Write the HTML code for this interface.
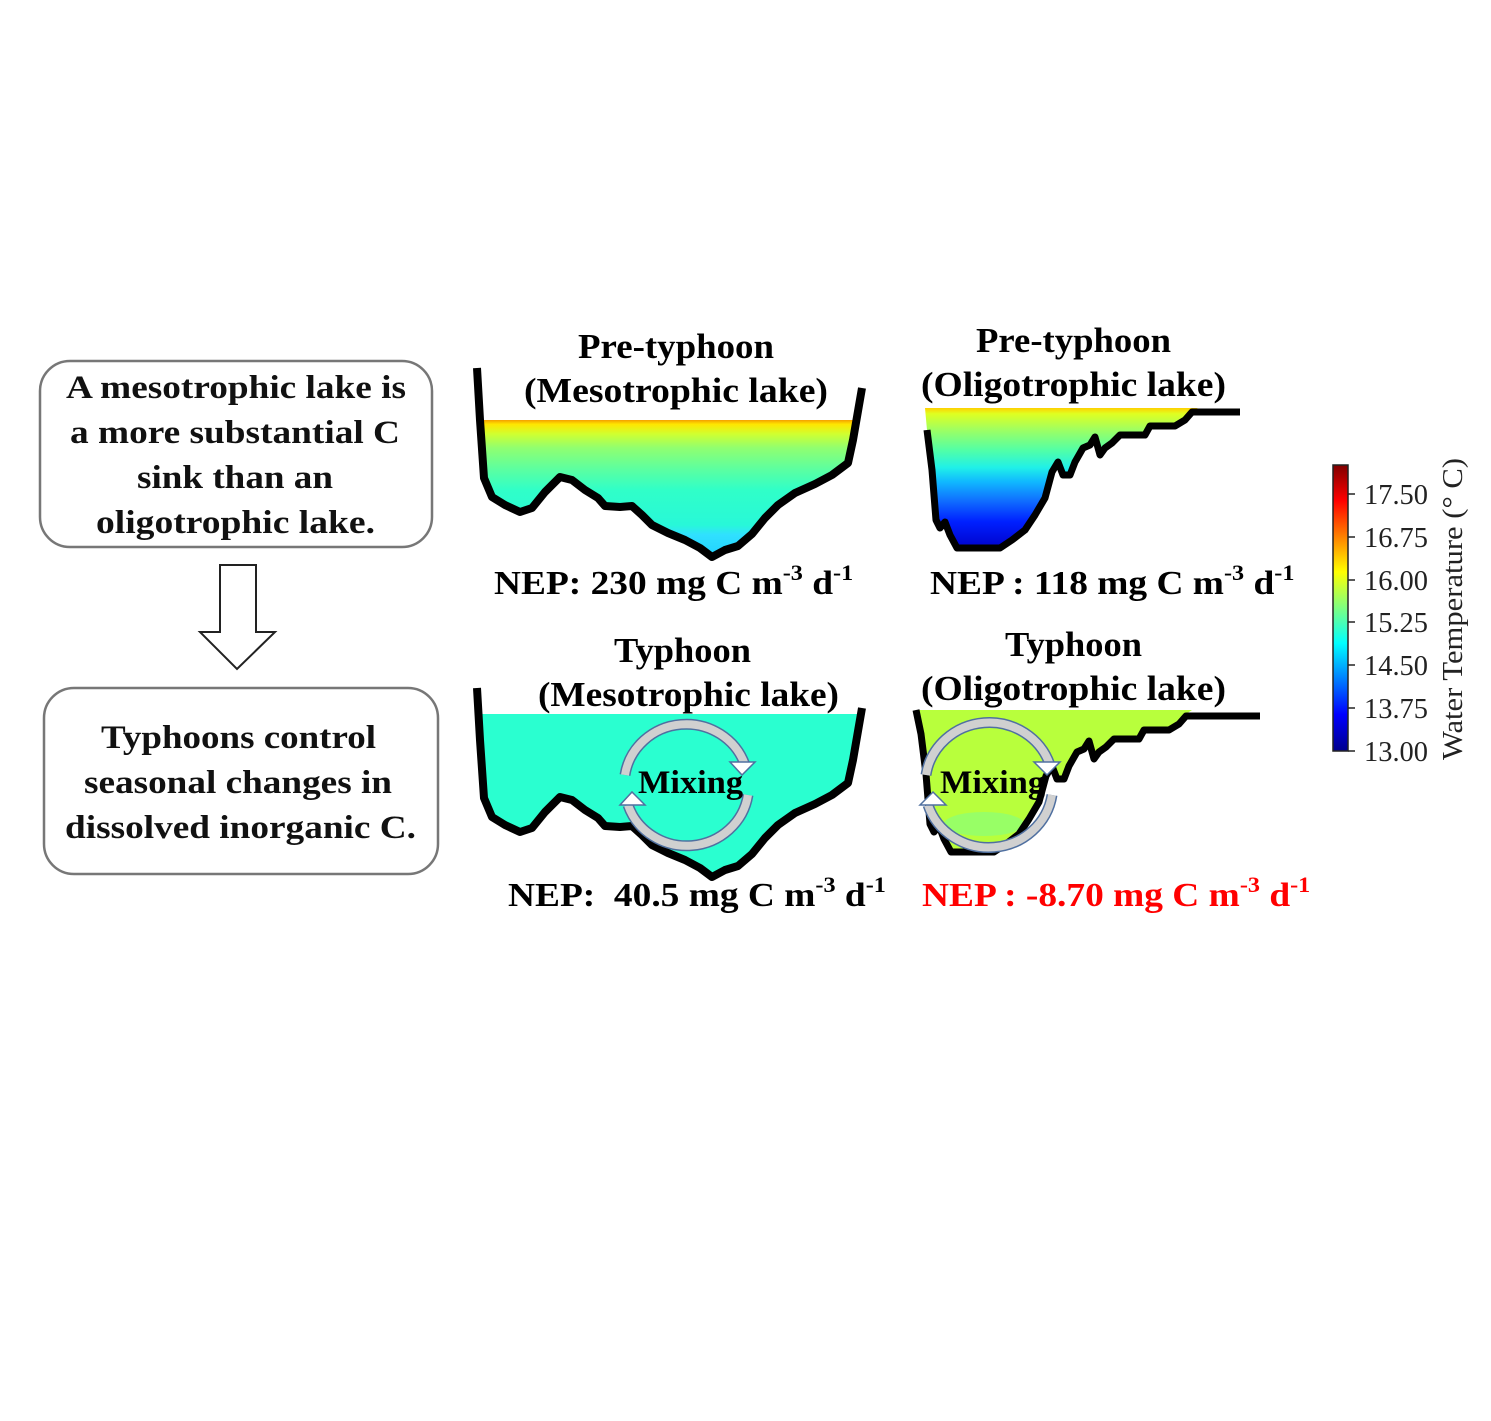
<!DOCTYPE html>
<html><head><meta charset="utf-8"><style>
html,body{margin:0;padding:0;background:#fff}
svg{display:block}
text{font-family:"Liberation Serif",serif}
</style></head><body>
<svg width="1491" height="1421" viewBox="0 0 1491 1421" xmlns="http://www.w3.org/2000/svg">
<defs>
<linearGradient id="gm" x1="0" y1="420" x2="0" y2="560" gradientUnits="userSpaceOnUse">
<stop offset="0" stop-color="#f5a000"/><stop offset="0.03" stop-color="#ffe600"/>
<stop offset="0.1" stop-color="#d0ff30"/><stop offset="0.2" stop-color="#90ff70"/>
<stop offset="0.35" stop-color="#5cffa0"/><stop offset="0.5" stop-color="#30ffc8"/>
<stop offset="0.75" stop-color="#28f8d8"/><stop offset="0.82" stop-color="#30e0ff"/><stop offset="1" stop-color="#20d0ff"/>
</linearGradient>
<linearGradient id="go" x1="0" y1="408" x2="0" y2="550" gradientUnits="userSpaceOnUse">
<stop offset="0" stop-color="#ffd000"/><stop offset="0.04" stop-color="#e0ff20"/>
<stop offset="0.15" stop-color="#a0ff60"/><stop offset="0.3" stop-color="#50ffa8"/>
<stop offset="0.42" stop-color="#20f0e8"/><stop offset="0.52" stop-color="#10b8ff"/>
<stop offset="0.65" stop-color="#1070ff"/><stop offset="0.8" stop-color="#0020ff"/><stop offset="1" stop-color="#0000c8"/>
</linearGradient>
<linearGradient id="jet" x1="0" y1="750" x2="0" y2="465" gradientUnits="userSpaceOnUse">
<stop offset="0" stop-color="#00008f"/><stop offset="0.125" stop-color="#0000ff"/>
<stop offset="0.375" stop-color="#00ffff"/><stop offset="0.625" stop-color="#ffff00"/>
<stop offset="0.875" stop-color="#ff0000"/><stop offset="1" stop-color="#800000"/>
</linearGradient>
</defs>

<!-- left boxes -->
<rect x="40" y="361" width="392" height="186" rx="30" fill="#fff" stroke="#777" stroke-width="2.5"/>
<g font-weight="bold" font-size="33" fill="#111" lengthAdjust="spacingAndGlyphs">
<text x="66" y="398" textLength="340" lengthAdjust="spacingAndGlyphs">A mesotrophic lake is</text>
<text x="70" y="443" textLength="330" lengthAdjust="spacingAndGlyphs">a more substantial C</text>
<text x="137" y="488" textLength="196" lengthAdjust="spacingAndGlyphs">sink than an</text>
<text x="96" y="533" textLength="279" lengthAdjust="spacingAndGlyphs">oligotrophic lake.</text>
</g>
<path d="M220,565 H256 V632 H275 L237,669 L200,632 H220 Z" fill="#fff" stroke="#222" stroke-width="2"/>
<rect x="44" y="688" width="394" height="186" rx="30" fill="#fff" stroke="#777" stroke-width="2.5"/>
<g font-weight="bold" font-size="33" fill="#111">
<text x="101" y="748" textLength="275" lengthAdjust="spacingAndGlyphs">Typhoons control</text>
<text x="84" y="793" textLength="308" lengthAdjust="spacingAndGlyphs">seasonal changes in</text>
<text x="65" y="838" textLength="351" lengthAdjust="spacingAndGlyphs">dissolved inorganic C.</text>
</g>

<!-- pre meso -->
<path d="M480,420 L484,478 L492,497 L505,505 L520,512 L532,508 L545,492 L560,477 L572,480 L585,490 L598,498 L605,506 L620,507 L632,506 L642,515 L652,525 L668,533 L685,540 L700,548 L712,557 L725,550 L738,546 L752,534 L765,518 L778,505 L795,493 L815,484 L832,475 L848,463 L853,440 L855,420 Z" fill="url(#gm)"/>
<path d="M477,368 L480,420 L484,478 L492,497 L505,505 L520,512 L532,508 L545,492 L560,477 L572,480 L585,490 L598,498 L605,506 L620,507 L632,506 L642,515 L652,525 L668,533 L685,540 L700,548 L712,557 L725,550 L738,546 L752,534 L765,518 L778,505 L795,493 L815,484 L832,475 L848,463 L853,440 L862,388" fill="none" stroke="#000" stroke-width="8" stroke-linejoin="round"/>

<!-- pre oligo -->
<path d="M925,408 L927,430 L932,470 L936,520 L940,528 L945,522 L950,535 L957,548 L1000,548 L1012,540 L1025,530 L1035,515 L1045,498 L1052,472 L1058,462 L1063,475 L1070,475 L1075,462 L1083,448 L1090,445 L1095,437 L1100,455 L1105,448 L1112,443 L1120,435 L1145,435 L1150,426 L1175,426 L1185,420 L1192,410 L1198,408 Z" fill="url(#go)"/>
<path d="M927,430 L932,470 L936,520 L940,528 L945,522 L950,535 L957,548 L1000,548 L1012,540 L1025,530 L1035,515 L1045,498 L1052,472 L1058,462 L1063,475 L1070,475 L1075,462 L1083,448 L1090,445 L1095,437 L1100,455 L1105,448 L1112,443 L1120,435 L1145,435 L1150,426 L1175,426 L1185,420 L1192,412 L1240,412" fill="none" stroke="#000" stroke-width="7" stroke-linejoin="round"/>

<!-- typhoon meso -->
<g transform="translate(0,320)">
<path d="M481,394 L484,478 L492,497 L505,505 L520,512 L532,508 L545,492 L560,477 L572,480 L585,490 L598,498 L605,506 L620,507 L632,506 L642,515 L652,525 L668,533 L685,540 L700,548 L712,557 L725,550 L738,546 L752,534 L765,518 L778,505 L795,493 L815,484 L832,475 L848,463 L853,440 L857,394 Z" fill="#2affd0"/>
<path d="M477,368 L480,420 L484,478 L492,497 L505,505 L520,512 L532,508 L545,492 L560,477 L572,480 L585,490 L598,498 L605,506 L620,507 L632,506 L642,515 L652,525 L668,533 L685,540 L700,548 L712,557 L725,550 L738,546 L752,534 L765,518 L778,505 L795,493 L815,484 L832,475 L848,463 L853,440 L862,388" fill="none" stroke="#000" stroke-width="8" stroke-linejoin="round"/>
</g>

<!-- typhoon oligo -->
<g transform="translate(-6,304)">
<path d="M925,406 L927,430 L932,470 L936,520 L940,528 L945,522 L950,535 L957,548 L1000,548 L1012,540 L1025,530 L1035,515 L1045,498 L1052,472 L1058,462 L1063,475 L1070,475 L1075,462 L1083,448 L1090,445 L1095,437 L1100,455 L1105,448 L1112,443 L1120,435 L1145,435 L1150,426 L1175,426 L1185,420 L1192,410 L1198,406 Z" fill="#b8ff3c"/>
<ellipse cx="990" cy="520" rx="40" ry="12" fill="#90ff70" opacity="0.8"/>
<path d="M922,406 L927,430 L932,470 L936,520 L940,528 L945,522 L950,535 L957,548 L1000,548 L1012,540 L1025,530 L1035,515 L1045,498 L1052,472 L1058,462 L1063,475 L1070,475 L1075,462 L1083,448 L1090,445 L1095,437 L1100,455 L1105,448 L1112,443 L1120,435 L1145,435 L1150,426 L1175,426 L1185,420 L1192,412 L1266,412" fill="none" stroke="#000" stroke-width="7" stroke-linejoin="round"/>
</g>

<!-- mixing circles -->
<g fill="none">
<path d="M625,775 A62,60 0 0 1 745,765" stroke="#5070a0" stroke-width="11"/>
<path d="M625,775 A62,60 0 0 1 745,765" stroke="#d0d0d0" stroke-width="8"/>
<path d="M748,795 A62,60 0 0 1 628,805" stroke="#5070a0" stroke-width="11"/>
<path d="M748,795 A62,60 0 0 1 628,805" stroke="#d0d0d0" stroke-width="8"/>
<path d="M926,775 A64,62 0 0 1 1050,765" stroke="#5070a0" stroke-width="11"/>
<path d="M926,775 A64,62 0 0 1 1050,765" stroke="#d0d0d0" stroke-width="8"/>
<path d="M1052,795 A64,62 0 0 1 928,805" stroke="#5070a0" stroke-width="11"/>
<path d="M1052,795 A64,62 0 0 1 928,805" stroke="#d0d0d0" stroke-width="8"/>
</g>
<g fill="#fff" stroke="#5070a0" stroke-width="1.5">
<path d="M730,762 L755,762 L742,775 Z"/>
<path d="M620,805 L645,805 L632,792 Z"/>
<path d="M1034,762 L1060,762 L1047,775 Z"/>
<path d="M920,805 L946,805 L933,792 Z"/>
</g>
<g font-weight="bold" font-size="33" fill="#000">
<text x="638" y="793" textLength="105" lengthAdjust="spacingAndGlyphs">Mixing</text>
<text x="940" y="793" textLength="105" lengthAdjust="spacingAndGlyphs">Mixing</text>
</g>

<!-- titles -->
<g font-weight="bold" font-size="35" fill="#000">
<text x="578" y="358" textLength="196" lengthAdjust="spacingAndGlyphs">Pre-typhoon</text>
<text x="524" y="402" textLength="304" lengthAdjust="spacingAndGlyphs">(Mesotrophic lake)</text>
<text x="976" y="352" textLength="195" lengthAdjust="spacingAndGlyphs">Pre-typhoon</text>
<text x="921" y="396" textLength="305" lengthAdjust="spacingAndGlyphs">(Oligotrophic lake)</text>
<text x="614" y="662" textLength="137" lengthAdjust="spacingAndGlyphs">Typhoon</text>
<text x="538" y="706" textLength="301" lengthAdjust="spacingAndGlyphs">(Mesotrophic lake)</text>
<text x="1005" y="656" textLength="137" lengthAdjust="spacingAndGlyphs">Typhoon</text>
<text x="921" y="700" textLength="305" lengthAdjust="spacingAndGlyphs">(Oligotrophic lake)</text>
</g>
<g font-weight="bold" font-size="34" fill="#000">
<text transform="translate(494,594) scale(1.1,1)">NEP: 230 mg C m<tspan font-size="22" dy="-14">-3</tspan><tspan dy="14"> d</tspan><tspan font-size="22" dy="-14">-1</tspan></text>
<text transform="translate(930,594) scale(1.1,1)">NEP : 118 mg C m<tspan font-size="22" dy="-14">-3</tspan><tspan dy="14"> d</tspan><tspan font-size="22" dy="-14">-1</tspan></text>
<text transform="translate(508,906) scale(1.1,1)" xml:space="preserve">NEP:  40.5 mg C m<tspan font-size="22" dy="-14">-3</tspan><tspan dy="14"> d</tspan><tspan font-size="22" dy="-14">-1</tspan></text>
<text transform="translate(922,906) scale(1.1,1)" fill="#ff0000">NEP : -8.70 mg C m<tspan font-size="22" dy="-14">-3</tspan><tspan dy="14"> d</tspan><tspan font-size="22" dy="-14">-1</tspan></text>
</g>

<!-- colorbar -->
<rect x="1333" y="465" width="15" height="286" fill="url(#jet)" stroke="#222" stroke-width="1.5"/>
<g stroke="#222" stroke-width="1.5">
<line x1="1348" y1="494" x2="1355" y2="494"/><line x1="1348" y1="537" x2="1355" y2="537"/>
<line x1="1348" y1="580" x2="1355" y2="580"/><line x1="1348" y1="622" x2="1355" y2="622"/>
<line x1="1348" y1="665" x2="1355" y2="665"/><line x1="1348" y1="708" x2="1355" y2="708"/>
<line x1="1348" y1="751" x2="1355" y2="751"/>
</g>
<g font-size="28" fill="#222">
<text x="1364" y="504" textLength="64" lengthAdjust="spacingAndGlyphs">17.50</text>
<text x="1364" y="547" textLength="64" lengthAdjust="spacingAndGlyphs">16.75</text>
<text x="1364" y="590" textLength="64" lengthAdjust="spacingAndGlyphs">16.00</text>
<text x="1364" y="632" textLength="64" lengthAdjust="spacingAndGlyphs">15.25</text>
<text x="1364" y="675" textLength="64" lengthAdjust="spacingAndGlyphs">14.50</text>
<text x="1364" y="718" textLength="64" lengthAdjust="spacingAndGlyphs">13.75</text>
<text x="1364" y="761" textLength="64" lengthAdjust="spacingAndGlyphs">13.00</text>
</g>
<text transform="translate(1462,760) rotate(-90)" font-size="28" fill="#222" textLength="302" lengthAdjust="spacingAndGlyphs">Water Temperature (° C)</text>
</svg>
</body></html>
